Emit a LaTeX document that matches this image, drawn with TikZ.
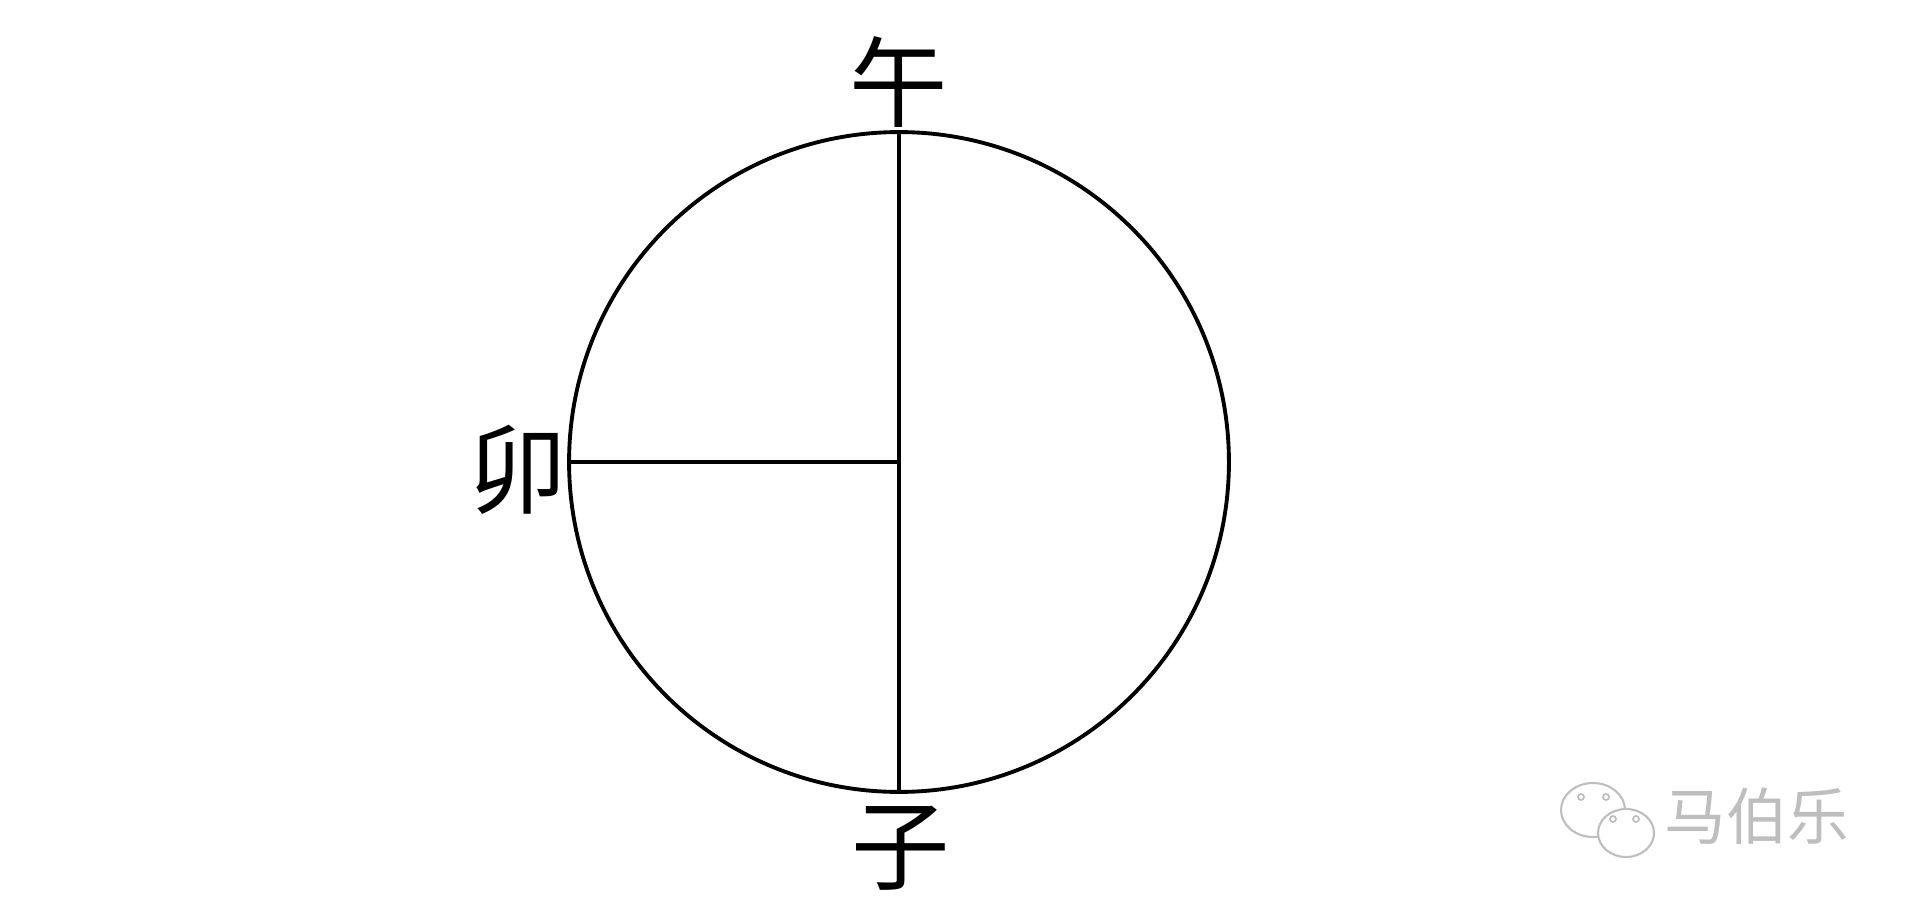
\documentclass[tikz,border=0pt]{standalone}
\usepackage{fontspec}
\newfontfamily\cjk{Noto Sans CJK SC}
\usetikzlibrary{calc}
\definecolor{mark1}{RGB}{190, 190, 190}

\begin{document}
\begin{tikzpicture}[x=0.02cm, y=-0.02cm, line width=2.2pt]
  \useasboundingbox (0,0) rectangle (1914,916);
  \node[circle,draw,minimum size=13.2cm,inner sep=0pt,outer sep=0pt] (dial) at (899,462) {};
  \node[font=\cjk\fontsize{56}{60}\selectfont] (wu) at (899,82) {午};
  \node[font=\cjk\fontsize{56}{60}\selectfont] (mao) at (518,470) {卯};
  \node[font=\cjk\fontsize{56}{60}\selectfont] (zi) at (901,848) {子};
  \foreach \from/\to in {dial.north/dial.south, dial.west/dial.center}
   \draw (\from) -- (\to);
 % watermark
  \draw[mark1,line width=1.2pt,fill=white] (1593,810) ellipse (32 and 27);
  \draw[mark1,line width=1.2pt,fill=white] (1626,833) ellipse (28 and 24);
  \foreach \x/\y in {1581/797, 1606/797, 1613/819, 1636/819}
   \draw[mark1,line width=1pt] (\x,\y) circle (3);
  \node[font=\cjk\fontsize{35}{38}\selectfont, text=mark1] (mbl) at (1757,816) {马伯乐};
\end{tikzpicture}
\end{document}
